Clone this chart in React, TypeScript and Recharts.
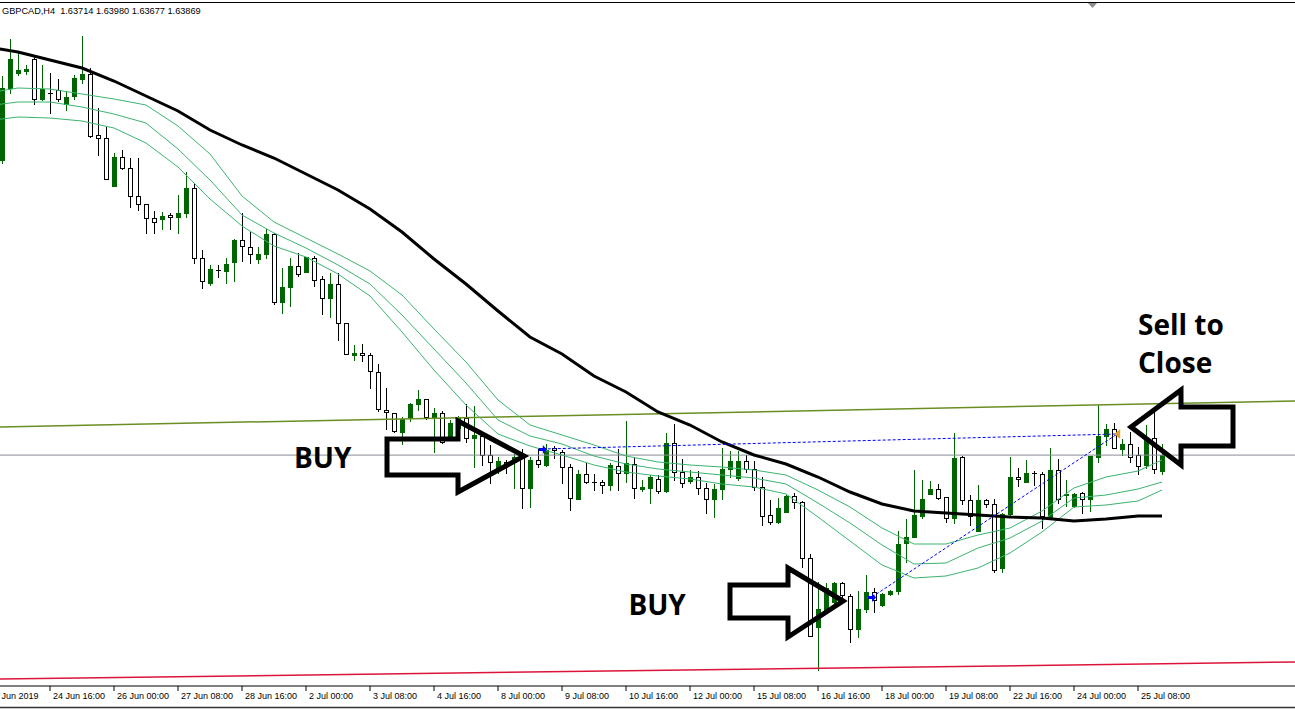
import React from 'react'
import {
  ComposedChart, Bar, Line, XAxis, YAxis, ReferenceLine, ReferenceDot
} from 'recharts'

// GBPCAD H4, bars numbered from the first (cut off) axis label "21 Jun 2019"
const FIRST_BAR = 2

const opens = [
  1.6682, 1.6754, 1.6769, 1.6771, 1.6783, 1.6743, 1.6749, 1.6752, 1.6738, 1.6746,
  1.6763, 1.6768, 1.6707, 1.6704, 1.6656, 1.6685, 1.6674, 1.6646, 1.6638, 1.6624,
  1.6623, 1.6627, 1.6625, 1.6629, 1.6654, 1.6584, 1.6559, 1.6572, 1.6571, 1.6580,
  1.6602, 1.6595, 1.6583, 1.6588, 1.6608, 1.6540, 1.6555, 1.6576, 1.6570, 1.6584,
  1.6563, 1.6544, 1.6558, 1.6519, 1.6487, 1.6489, 1.6487, 1.6470, 1.6432, 1.6429,
  1.6410, 1.6424, 1.6438, 1.6443, 1.6425, 1.6429, 1.6404, 1.6414, 1.6424, 1.6404,
  1.6406, 1.6387, 1.6372, 1.6380, 1.6380, 1.6384, 1.6354, 1.6382, 1.6377, 1.6394,
  1.6390, 1.6375, 1.6343, 1.6368, 1.6360, 1.6360, 1.6357, 1.6376, 1.6369, 1.6378,
  1.6353, 1.6354, 1.6363, 1.6351, 1.6399, 1.6370, 1.6361, 1.6365, 1.6354, 1.6343,
  1.6353, 1.6373, 1.6364, 1.6381, 1.6373, 1.6355, 1.6327, 1.6320, 1.6330, 1.6346,
  1.6340, 1.6284, 1.6215, 1.6232, 1.6240, 1.6259, 1.6246, 1.6213, 1.6233, 1.6250,
  1.6237, 1.6248, 1.6251, 1.6299, 1.6305, 1.6326, 1.6348, 1.6353, 1.6345, 1.6324,
  1.6385, 1.6342, 1.6311, 1.6342, 1.6338, 1.6274, 1.6328, 1.6365, 1.6360, 1.6369,
  1.6368, 1.6325, 1.6372, 1.6347, 1.6336, 1.6349, 1.6343, 1.6385, 1.6406, 1.6413,
  1.6393, 1.6398, 1.6387, 1.6377, 1.6404, 1.63714,
]
const highs = [
  1.6766, 1.6803, 1.6789, 1.6777, 1.6786, 1.6777, 1.6769, 1.6763, 1.6751, 1.6767,
  1.6806, 1.6774, 1.6734, 1.6715, 1.6689, 1.6692, 1.6684, 1.6684, 1.6638, 1.6631,
  1.6630, 1.6629, 1.6647, 1.6670, 1.6659, 1.6592, 1.6577, 1.6577, 1.6584, 1.6603,
  1.6629, 1.6610, 1.6595, 1.6613, 1.6609, 1.6574, 1.6584, 1.6589, 1.6585, 1.6586,
  1.6566, 1.6569, 1.6569, 1.6519, 1.6497, 1.6498, 1.6489, 1.6478, 1.6454, 1.6429,
  1.6425, 1.6439, 1.6452, 1.6443, 1.6434, 1.6431, 1.6422, 1.6426, 1.6438, 1.6436,
  1.6408, 1.6397, 1.6385, 1.6382, 1.6388, 1.6393, 1.6385, 1.6393, 1.6398, 1.6396,
  1.6392, 1.6378, 1.6372, 1.6379, 1.6368, 1.6362, 1.6379, 1.6393, 1.6421, 1.6384,
  1.6362, 1.6367, 1.6367, 1.6409, 1.6418, 1.6383, 1.6372, 1.6371, 1.6359, 1.6358,
  1.6394, 1.6391, 1.6391, 1.6387, 1.6381, 1.6365, 1.6342, 1.6344, 1.6347, 1.6349,
  1.6341, 1.6288, 1.6260, 1.6259, 1.6260, 1.6260, 1.6248, 1.6251, 1.6267, 1.6254,
  1.6249, 1.6252, 1.6311, 1.6323, 1.6372, 1.6362, 1.6361, 1.6358, 1.6345, 1.6409,
  1.6386, 1.6347, 1.6357, 1.6343, 1.6343, 1.6329, 1.6385, 1.6374, 1.6382, 1.6371,
  1.6370, 1.6394, 1.6383, 1.6362, 1.6349, 1.6350, 1.6386, 1.6437, 1.6418, 1.6419,
  1.6403, 1.6410, 1.6395, 1.6417, 1.6430, 1.63980,
]
const lows = [
  1.6679, 1.6749, 1.6767, 1.6768, 1.6738, 1.6742, 1.6729, 1.6741, 1.6732, 1.6743,
  1.6759, 1.6705, 1.6687, 1.6663, 1.6656, 1.6673, 1.6635, 1.6632, 1.6609, 1.6609,
  1.6613, 1.6613, 1.6609, 1.6625, 1.6579, 1.6554, 1.6557, 1.6565, 1.6559, 1.6561,
  1.6581, 1.6579, 1.6579, 1.6584, 1.6538, 1.6529, 1.6536, 1.6566, 1.6570, 1.6556,
  1.6528, 1.6525, 1.6502, 1.6488, 1.6482, 1.6481, 1.6454, 1.6431, 1.6413, 1.6410,
  1.6398, 1.6421, 1.6432, 1.6423, 1.6390, 1.6399, 1.6402, 1.6410, 1.6400, 1.6375,
  1.6377, 1.6359, 1.6369, 1.6369, 1.6354, 1.6334, 1.6335, 1.6375, 1.6376, 1.6384,
  1.6359, 1.6332, 1.6343, 1.6359, 1.6352, 1.6349, 1.6352, 1.6352, 1.6360, 1.6344,
  1.6351, 1.6339, 1.6349, 1.6350, 1.6362, 1.6355, 1.6359, 1.6348, 1.6329, 1.6325,
  1.6343, 1.6365, 1.6362, 1.6370, 1.6352, 1.6317, 1.6318, 1.6319, 1.6330, 1.6334,
  1.6275, 1.6206, 1.6172, 1.6230, 1.6239, 1.6245, 1.6200, 1.6205, 1.6230, 1.6230,
  1.6236, 1.6247, 1.6248, 1.6280, 1.6305, 1.6324, 1.6348, 1.6343, 1.6320, 1.6319,
  1.6338, 1.6317, 1.6311, 1.6335, 1.6270, 1.6270, 1.6327, 1.6356, 1.6360, 1.6357,
  1.6314, 1.6324, 1.6339, 1.6336, 1.6335, 1.6329, 1.6331, 1.6380, 1.6397, 1.6394,
  1.6387, 1.6380, 1.6368, 1.6374, 1.6369, 1.63677,
]
const closes = [
  1.6754, 1.6783, 1.6772, 1.6773, 1.6743, 1.6753, 1.6749, 1.6743, 1.6745, 1.6764,
  1.6768, 1.6706, 1.6704, 1.6663, 1.6685, 1.6674, 1.6646, 1.6638, 1.6624, 1.6620,
  1.6626, 1.6625, 1.6629, 1.6654, 1.6584, 1.6561, 1.6573, 1.6572, 1.6578, 1.6602,
  1.6596, 1.6588, 1.6588, 1.6608, 1.6540, 1.6555, 1.6576, 1.6568, 1.6585, 1.6562,
  1.6544, 1.6558, 1.6519, 1.6488, 1.6489, 1.6487, 1.6471, 1.6433, 1.6430, 1.6411,
  1.6423, 1.6438, 1.6443, 1.6425, 1.6429, 1.6400, 1.6419, 1.6424, 1.6404, 1.6407,
  1.6387, 1.6380, 1.6381, 1.6377, 1.6385, 1.6354, 1.6382, 1.6378, 1.6392, 1.6392,
  1.6375, 1.6344, 1.6368, 1.6360, 1.6360, 1.6357, 1.6377, 1.6369, 1.6379, 1.6354,
  1.6355, 1.6365, 1.6351, 1.6399, 1.6370, 1.6359, 1.6365, 1.6354, 1.6343, 1.6353,
  1.6373, 1.6381, 1.6381, 1.6373, 1.6355, 1.6326, 1.6320, 1.6334, 1.6346, 1.6340,
  1.6284, 1.6206, 1.6233, 1.6254, 1.6259, 1.6247, 1.6213, 1.6233, 1.6250, 1.6242,
  1.6248, 1.6251, 1.6298, 1.6305, 1.6327, 1.6343, 1.6353, 1.6344, 1.6324, 1.6384,
  1.6342, 1.6326, 1.6342, 1.6338, 1.6272, 1.6328, 1.6365, 1.6363, 1.6369, 1.6369,
  1.6326, 1.6372, 1.6343, 1.6348, 1.6348, 1.6343, 1.6386, 1.6406, 1.6413, 1.6394,
  1.6398, 1.6385, 1.6376, 1.6402, 1.6373, 1.63869,
]

const tickBars = [0, 8, 16, 24, 32, 40, 48, 56, 64, 72, 80, 88, 96, 104, 112, 120, 128, 136, 144]
const tickLabels = [
  '21 Jun 2019', '24 Jun 16:00', '26 Jun 00:00', '27 Jun 08:00', '28 Jun 16:00',
  '2 Jul 00:00', '3 Jul 08:00', '4 Jul 16:00', '8 Jul 00:00', '9 Jul 08:00',
  '10 Jul 16:00', '12 Jul 00:00', '15 Jul 08:00', '16 Jul 16:00', '18 Jul 00:00',
  '19 Jul 08:00', '22 Jul 16:00', '24 Jul 00:00', '25 Jul 08:00',
]

// indicator lines, read every 4th bar
const lineBars = [1, 4, 8, 12, 16, 20, 24, 28, 32, 36, 40, 44, 48, 52, 56, 60, 64, 68, 72,
  76, 80, 84, 88, 92, 96, 100, 104, 108, 112, 116, 120, 124, 128, 132, 136, 140, 144, 147]
const maSlow = [1.6794, 1.6790, 1.6782, 1.6774, 1.6761, 1.6746, 1.6731, 1.6712, 1.6697, 1.6684,
  1.6668, 1.6652, 1.6633, 1.6610, 1.6583, 1.6558, 1.6531, 1.6505, 1.6488, 1.6466, 1.6450, 1.6430,
  1.6417, 1.6400, 1.6387, 1.6378, 1.6365, 1.6350, 1.6338, 1.6331, 1.6329, 1.6327, 1.6325, 1.6324,
  1.6321, 1.6323, 1.6326, 1.6326]
const bandUpper = [1.6750, 1.6754, 1.6753, 1.6748, 1.6743, 1.6737, 1.6716, 1.6688, 1.6646, 1.6620,
  1.6604, 1.6588, 1.6571, 1.6547, 1.6513, 1.6480, 1.6442, 1.6417, 1.6407, 1.6397, 1.6386, 1.6380,
  1.6377, 1.6375, 1.6372, 1.6367, 1.6352, 1.6335, 1.6314, 1.6298, 1.6298, 1.6307, 1.6314, 1.6331,
  1.6354, 1.6365, 1.6371, 1.6382]
const bandMiddle = [1.6737, 1.6740, 1.6740, 1.6735, 1.6728, 1.6719, 1.6693, 1.6662, 1.6627, 1.6609,
  1.6594, 1.6577, 1.6558, 1.6527, 1.6493, 1.6459, 1.6422, 1.6406, 1.6398, 1.6386, 1.6378, 1.6373,
  1.6370, 1.6367, 1.6364, 1.6358, 1.6339, 1.6319, 1.6297, 1.6278, 1.6279, 1.6294, 1.6304, 1.6321,
  1.6344, 1.6347, 1.6353, 1.6360]
const bandLower = [1.6722, 1.6725, 1.6724, 1.6721, 1.6714, 1.6699, 1.6675, 1.6643, 1.6616, 1.6596,
  1.6585, 1.6568, 1.6546, 1.6510, 1.6472, 1.6437, 1.6408, 1.6396, 1.6387, 1.6377, 1.6370, 1.6366,
  1.6363, 1.6358, 1.6355, 1.6348, 1.6325, 1.6301, 1.6277, 1.6264, 1.6266, 1.6274, 1.6289, 1.6310,
  1.6335, 1.6337, 1.6341, 1.6352]

// drawn objects
const oliveTrend = [{ bar: 1.75, price: 1.6415 }, { bar: 163.625, price: 1.6441 }]
const redTrend = [{ bar: 1.75, price: 1.6163 }, { bar: 163.625, price: 1.6180 }]
const tradeEntries = [{ bar: 69.6, price: 1.6393 }, { bar: 110.75, price: 1.6245 }]
const tradeExit = { bar: 141.4, price: 1.6408 }

const arrowNotes = [
  { bar: 67.75, price: 1.6386, dir: 1, head: 70, up: 35, down: 36, shaftUp: 17, shaftDown: 19, len: 141 },
  { bar: 107.625, price: 1.6241, dir: 1, head: 59, up: 33, down: 36, shaftUp: 16, shaftDown: 17, len: 117 },
  { bar: 142.625, price: 1.6415, dir: -1, head: 54, up: 37, down: 38, shaftUp: 20, shaftDown: 19, len: 106 },
]
const textNotes = [
  { bar: 38.5, price: 1.6374, text: 'BUY' },
  { bar: 80.3, price: 1.6227, text: 'BUY' },
  { bar: 144.0, price: 1.6507, text: 'Sell to' },
  { bar: 144.0, price: 1.6469, text: 'Close' },
]

const BULL = '#006400'
const BAND = '#3cb371'

const candles = opens.map((o, k) => ({
  i: FIRST_BAR + k, o, h: highs[k], l: lows[k], c: closes[k], range: [lows[k], highs[k]],
}))
const lineRows = lineBars.map((b, k) => ({
  i: b, ma: maSlow[k], up: bandUpper[k], mid: bandMiddle[k], lo: bandLower[k],
}))
const last = candles.length - 1
const header = `GBPCAD,H4  ${opens[last].toFixed(5)} ${highs[last].toFixed(5)} ${lows[last].toFixed(5)} ${closes[last].toFixed(5)}`

const Candle = (props: any) => {
  const { x, y, width, height, payload } = props
  const { o, h, l, c } = payload
  const top0 = Math.min(y, y + height)
  const hh = Math.abs(height)
  const toY = (p: number) => (h === l ? top0 : top0 + ((h - p) / (h - l)) * hh)
  const cx = Math.round(x + width / 2)
  const bull = c > o
  const col = bull ? BULL : '#000'
  const bt = Math.round(toY(Math.max(o, c)))
  const bb = Math.round(toY(Math.min(o, c)))
  const wt = Math.round(toY(h))
  const wb = Math.round(toY(l))
  return (
    <g shapeRendering="crispEdges">
      <line x1={cx + 0.5} x2={cx + 0.5} y1={wt} y2={wb + 1} stroke={col} strokeWidth={1} />
      {bb - bt < 1 ? (
        <line x1={cx - 2} x2={cx + 3} y1={bt + 0.5} y2={bt + 0.5} stroke={col} strokeWidth={1} />
      ) : (
        <rect x={cx - 1.5} y={bt + 0.5} width={4} height={bb - bt}
          fill={bull ? BULL : '#fff'} stroke={col} strokeWidth={1} />
      )}
    </g>
  )
}

const AxisTick = (props: any) => {
  const { x, y, payload } = props
  const k = tickBars.indexOf(payload.value)
  return (
    <text x={x + 3} y={y + 6} fontFamily="'Liberation Sans', Arial, sans-serif" fontSize={9} fill="#000">
      {tickLabels[k]}
    </text>
  )
}

const arrowShape = (a: typeof arrowNotes[number]) => (props: any) => {
  const { cx, cy } = props
  const pts = [
    [-4, 0], [-a.head, -a.up], [-a.head, -a.shaftUp], [-a.len, -a.shaftUp],
    [-a.len, a.shaftDown], [-a.head, a.shaftDown], [-a.head, a.down],
  ].map(([px, py]) => `${cx + a.dir * px},${cy + py}`).join(' ')
  return <polygon points={pts} fill="none" stroke="#000" strokeWidth={5} strokeLinejoin="miter" />
}

const textShape = (t: string) => (props: any) => (
  <text x={props.cx} y={props.cy} fontFamily="'Open Sans', sans-serif" fontWeight={700}
    fontSize={28} fill="#000">{t}</text>
)

const entryShape = (props: any) => {
  const { cx, cy } = props
  return (
    <g fill="#0000ff">
      <rect x={cx - 4} y={cy - 1} width={5} height={3} />
      <polygon points={`${cx},${cy - 4} ${cx + 4},${cy + 0.5} ${cx},${cy + 5}`} />
    </g>
  )
}

const exitShape = (props: any) => {
  const { cx, cy } = props
  return <polygon points={`${cx - 3},${cy} ${cx + 3},${cy - 5} ${cx + 3},${cy + 5}`} fill="#e0a030" />
}

export default function App() {
  return (
    <div style={{ position: 'absolute', left: 0, top: 0, width: 1295, height: 710, overflow: 'hidden', background: '#fff' }}>
      <div style={{ position: 'absolute', left: -14, top: 0 }}>
        <ComposedChart width={1309} height={710} data={candles} margin={{ top: 3, right: 0, bottom: 0, left: 0 }}>
          <XAxis dataKey="i" type="number" domain={[0, 163.625]} allowDataOverflow
            ticks={tickBars} interval={0} tick={<AxisTick />} tickSize={5}
            stroke="#000" height={24} />
          <YAxis hide type="number" domain={[1.6156, 1.6839]} allowDataOverflow />
          <ReferenceLine y={closes[last]} stroke="#868c92" strokeWidth={1} />
          <ReferenceLine segment={[{ x: oliveTrend[0].bar, y: oliveTrend[0].price }, { x: oliveTrend[1].bar, y: oliveTrend[1].price }]}
            stroke="#6b8e23" strokeWidth={1.5} ifOverflow="hidden" />
          <ReferenceLine segment={[{ x: redTrend[0].bar, y: redTrend[0].price }, { x: redTrend[1].bar, y: redTrend[1].price }]}
            stroke="#dc143c" strokeWidth={1.5} ifOverflow="hidden" />
          <Bar dataKey="range" barSize={5} shape={<Candle />} isAnimationActive={false} />
          <Line data={lineRows} dataKey="up" stroke={BAND} strokeWidth={1} dot={false} isAnimationActive={false} />
          <Line data={lineRows} dataKey="mid" stroke={BAND} strokeWidth={1} dot={false} isAnimationActive={false} />
          <Line data={lineRows} dataKey="lo" stroke={BAND} strokeWidth={1} dot={false} isAnimationActive={false} />
          <Line data={lineRows} dataKey="ma" stroke="#000" strokeWidth={3} dot={false} isAnimationActive={false} />
          {tradeEntries.map((e, k) => (
            <ReferenceLine key={'t' + k} segment={[{ x: e.bar, y: e.price }, { x: tradeExit.bar, y: tradeExit.price }]}
              stroke="#0000ff" strokeWidth={1} strokeDasharray="3 2" ifOverflow="hidden" />
          ))}
          {tradeEntries.map((e, k) => (
            <ReferenceDot key={'e' + k} x={e.bar} y={e.price} shape={entryShape} />
          ))}
          <ReferenceDot x={tradeExit.bar} y={tradeExit.price} shape={exitShape} />
          {arrowNotes.map((a, k) => (
            <ReferenceDot key={'a' + k} x={a.bar} y={a.price} shape={arrowShape(a)} />
          ))}
          {textNotes.map((t, k) => (
            <ReferenceDot key={'x' + k} x={t.bar} y={t.price} shape={textShape(t.text)} />
          ))}
        </ComposedChart>
      </div>
      <svg width={1295} height={710} style={{ position: 'absolute', left: 0, top: 0, pointerEvents: 'none' }}>
        <line x1={0} x2={1295} y1={2.5} y2={2.5} stroke="#000" strokeWidth={1} />
        <text x={2} y={13.5} fontFamily="'Liberation Sans', Arial, sans-serif" fontSize={9.2} fill="#000"
          style={{ whiteSpace: 'pre' }}>{header}</text>
        <polygon points="1088,3 1097,3 1092.5,8" fill="#8c8c8c" />
        <line x1={0} x2={1295} y1={707.5} y2={707.5} stroke="#333" strokeWidth={1.5} />
      </svg>
    </div>
  )
}
